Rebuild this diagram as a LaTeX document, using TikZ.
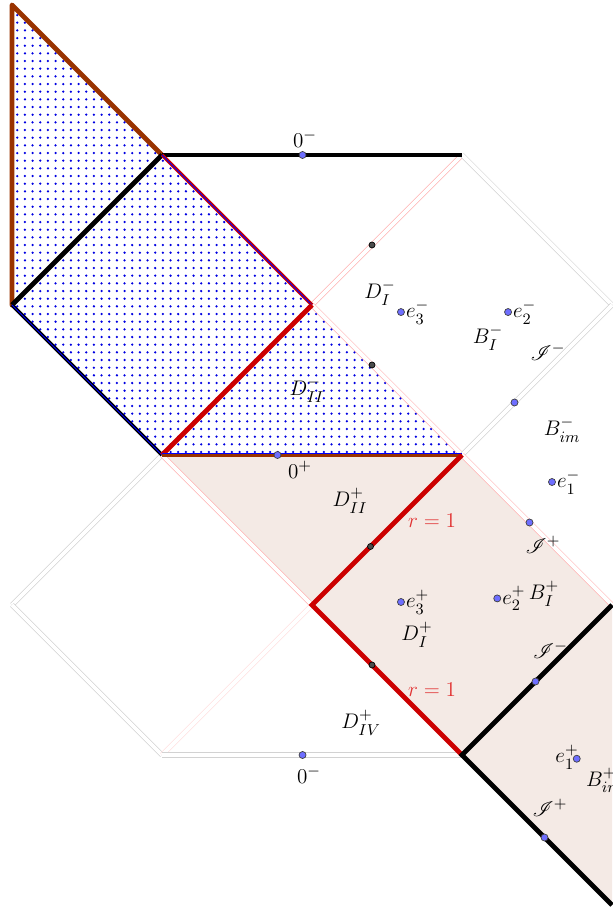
\documentclass[tikz,border=0pt]{standalone}
\usepackage{amsmath,amssymb,mathrsfs}
\usepackage{xcolor}
\usepackage{tikz}
\usetikzlibrary{calc}
\definecolor{brownline}{RGB}{153,51,0}
\definecolor{redline}{RGB}{204,0,0}
\definecolor{beige}{RGB}{244,234,229}
\definecolor{ptblue}{RGB}{110,110,255}
\definecolor{dotblue}{RGB}{0,0,225}
\definecolor{rlabel}{RGB}{225,50,50}
\tikzset{
  brownedge/.style={line width=2.8pt, draw=brownline, line cap=round, line join=round},
  blackedge/.style={line width=2.8pt, draw=black},
  rededge/.style={line width=2.8pt, draw=redline},
  coreblue/.style={line width=0.5pt, draw=blue},
  grayedge/.style={draw=gray!35, double=white, double distance=2.2pt, line width=0.35pt},
  pinkedge/.style={draw=red!30, double=white, double distance=2.2pt, line width=0.35pt},
  paleedge/.style={draw=red!12, double=white, double distance=2.2pt, line width=0.35pt},
  bluept/.style={circle, draw=black!75, fill=ptblue, inner sep=0pt, minimum size=4pt, line width=0.4pt},
  blackpt/.style={circle, draw=black, fill=black!70, inner sep=0pt, minimum size=3.4pt, line width=0.4pt},
  lbl/.style={font=\fontsize{12.4}{15}\selectfont, inner sep=0.5pt},
  rlbl/.style={lbl, text=rlabel}
}
\begin{document}
\begin{tikzpicture}[x=3cm,y=3cm]
\useasboundingbox (-0.08,-0.0533) rectangle (4,6.0333);
\coordinate (apex) at (0,6);
\coordinate (wallbot) at (0,4);
\coordinate (zml) at (1,5);
\coordinate (zmr) at (3,5);
\coordinate (dmid) at (2,4);
\coordinate (rup) at (4,4);
\coordinate (zpl) at (1,3);
\coordinate (zpr) at (3,3);
\coordinate (lleft) at (0,2);
\coordinate (hmid) at (2,2);
\coordinate (rmid) at (4,2);
\coordinate (mbot) at (1,1);
\coordinate (gbot) at (3,1);
\coordinate (rlow) at (4,0);

\fill[beige] (zpl) -- (zpr) -- (rmid) -- (rlow) -- (gbot) -- (hmid) -- cycle;
\begin{scope}
\clip (apex) -- (zml) -- (dmid) -- (zpr) -- (zpl) -- (wallbot) -- cycle;
\foreach \i in {0,...,60}
  \foreach \j in {0,...,60}
    \fill[dotblue] ({0.035+0.0511*\i},{3.02+0.0511*\j}) circle (0.72pt);
\end{scope}

\draw[pinkedge] (zmr) -- (dmid);
\draw[grayedge] (zmr) -- (rup);
\draw[pinkedge] (dmid) -- (zpr);
\draw[grayedge] (zpr) -- (rup);
\draw[pinkedge] (zpr) -- (rmid);
\draw[grayedge] (zpl) -- (lleft);
\draw[grayedge] (lleft) -- (mbot);
\draw[pinkedge] (zpl) -- (hmid);
\draw[paleedge] (hmid) -- (mbot);
\draw[grayedge] (mbot) -- (gbot);

\draw[brownedge] (wallbot) -- (apex) -- (zml);
\draw[blackedge] (wallbot) -- (zml);
\draw[blackedge] (zml) -- (zmr);
\draw[rededge, line width=2pt] (zml) -- (dmid);
\draw[coreblue] (zml) -- (dmid);
\draw[blackedge, line width=2.2pt] (wallbot) -- (zpl);
\draw[coreblue] (wallbot) -- (zpl);
\draw[rededge] (dmid) -- (zpl);
\draw[brownedge, line width=2.6pt, line cap=butt] (zpl) -- (zpr);
\draw[coreblue, line width=0.35pt, transform canvas={yshift=0.9pt}] (zpl) -- (zpr);
\draw[rededge] (zpr) -- (hmid) -- (gbot);
\draw[blackedge] (rmid) -- (gbot) -- (rlow);

\node[blackpt] (q1) at (2.4,4.4) {};
\node[blackpt] (q2) at (2.4,3.6) {};
\node[blackpt] (q3) at (2.39,2.39) {};
\node[blackpt] (q4) at (2.4,1.6) {};

\node[bluept] (ztop) at (1.937,5) {};
\node[lbl] (lztop) at (1.953,5.107) {$0^-$};
\node[bluept] (zmidp) at (1.77,3) {};
\node[lbl] (lzmidp) at (1.92,2.9) {$0^+$};
\node[bluept] (zbot) at (1.937,1) {};
\node[lbl] (lzbot) at (1.98,0.867) {$0^-$};

\node[bluept] (e3m) at (2.593,3.953) {};
\node[lbl, anchor=west] at (e3m.east) {$e_3^-$};
\node[bluept] (e2m) at (3.307,3.953) {};
\node[lbl, anchor=west] at (e2m.east) {$e_2^-$};
\node[bluept] (e1m) at (3.6,2.82) {};
\node[lbl, anchor=west] at (e1m.east) {$e_1^-$};
\node[bluept] (e3p) at (2.593,2.02) {};
\node[lbl, anchor=west] at (e3p.east) {$e_3^+$};
\node[bluept] (e2p) at (3.235,2.044) {};
\node[lbl, anchor=west] at (e2p.east) {$e_2^+$};
\node[bluept] (e1p) at (3.765,0.975) {};
\node[lbl] at (3.7,0.987) {$e_1^+$};

\node[bluept] (sm1) at (3.35,3.35) {};
\node[bluept] (sp1) at (3.45,2.55) {};
\node[bluept] (sm2) at (3.49,1.49) {};
\node[bluept] (sp2) at (3.55,0.45) {};

\node[lbl] (dim) at (2.453,4.08) {$D_I^-$};
\node[lbl] (diim) at (1.967,3.433) {$D_{II}^-$};
\node[lbl] (diip) at (2.253,2.693) {$D_{II}^+$};
\node[lbl] (dip) at (2.7,1.8) {$D_I^+$};
\node[lbl] (divp) at (2.327,1.213) {$D_{IV}^+$};
\node[lbl] (bim) at (3.173,3.78) {$B_I^-$};
\node[lbl] (bimm) at (3.667,3.167) {$B_{im}^-$};
\node[lbl] (bip) at (3.547,2.073) {$B_I^+$};
\node[lbl, anchor=west] (bimp) at (3.82,0.83) {$B_{im}^+$};
\node[lbl] (scm1) at (3.573,3.687) {$\mathscr{I}^-$};
\node[lbl] (scp1) at (3.54,2.4) {$\mathscr{I}^+$};
\node[lbl] (scm2) at (3.59,1.7) {$\mathscr{I}^-$};
\node[lbl] (scp2) at (3.587,0.647) {$\mathscr{I}^+$};
\node[rlbl] (r1) at (2.8,2.56) {$r=1$};
\node[rlbl] (r2) at (2.8,1.433) {$r=1$};
\end{tikzpicture}
\end{document}
